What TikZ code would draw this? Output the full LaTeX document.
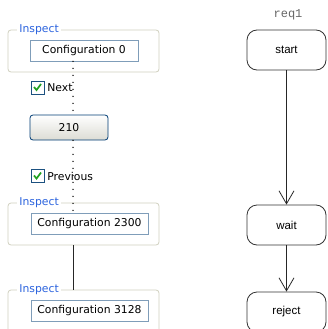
\documentclass[tikz,border=0pt]{standalone}
\usepackage{fontspec}
\setmainfont{DejaVu Sans}
\newfontfamily\arialfont{Liberation Sans}
\setmonofont{Liberation Mono}
\usetikzlibrary{arrows.meta}
\definecolor{grpline}{HTML}{D0D0BF}
\definecolor{inspblue}{HTML}{2B63DE}
\definecolor{editline}{HTML}{7F9DB9}
\definecolor{btnline}{HTML}{003C74}
\definecolor{btnfill}{HTML}{DCDCD4}
\definecolor{chkline}{HTML}{1C5180}
\definecolor{chkgreen}{HTML}{21A121}

\begin{document}
\begin{tikzpicture}[x=1pt,y=-1pt,>={Straight Barb[length=13pt,width=15pt]},
	font=\fontsize{10.8}{12}\selectfont,line width=0.8pt,
	group/.style={draw=grpline,rounded corners=3pt,minimum width=151pt,inner sep=0pt},
	title/.style={fill=white,text=inspblue,inner xsep=2pt,inner ysep=0pt,anchor=west},
	edit/.style={draw=editline,fill=white,inner sep=0pt,minimum height=21pt},
	button/.style={draw=btnline,rounded corners=3pt,top color=white,bottom color=btnfill,
		minimum width=78pt,minimum height=25pt},
	check/.style={draw=chkline,fill=white,minimum size=13pt,inner sep=0pt,
		path picture={\draw[chkgreen,line width=1.7pt] (path picture bounding box.center)
			++(-3.5,-0.5) -- ++(2.5,3) -- ++(4.5,-6);}},
	dots/.style={line width=1.5pt,line cap=round,dash pattern=on 0pt off 7pt},
	state/.style={draw=black!80,rounded corners=10pt,minimum width=79pt,minimum height=40pt,
		font=\arialfont\fontsize{11.5}{13}\selectfont}]
	\useasboundingbox (0,0) rectangle (327,329);
	\clip (0,0) rectangle (327,329);
	\coordinate (spine) at (73,0);

	\node[group,minimum height=42pt] (grp0) at (83.5,51) {};
	\node[title] (ttl0) at (17,30) {Inspect};
	\node[edit,minimum width=108pt] (cfg0) at (84,50.5) {Configuration 0};
	\node[check] (chk0) at (37.5,87.5) {};
	\node[anchor=west,inner sep=0pt] (next) at (47,87.5) {Next};
	\node[button] (btn) at (69,127.5) {210};
	\node[check] (chk1) at (37.5,176) {};
	\node[anchor=west,inner sep=0pt] (prev) at (47,176) {Previous};
	\node[group,minimum height=42pt] (grp1) at (83.5,224) {};
	\node[title] (ttl1) at (17,203) {Inspect};
	\node[edit,minimum width=117pt] (cfg1) at (89.5,223.5) {Configuration 2300};
	\node[group,minimum height=60pt] (grp2) at (83.5,320) {};
	\node[title] (ttl2) at (17,290) {Inspect};
	\node[edit,minimum width=117pt] (cfg2) at (89.5,310.5) {Configuration 3128};

	\draw[dots] (cfg0.south -| spine) -- (btn.north -| spine);
	\draw[dots] (btn.south -| spine) -- (cfg1.north -| spine);
	\draw[black!85] (grp1.south -| spine) -- (grp2.north -| spine);

	\node[font=\ttfamily\fontsize{12}{14}\selectfont,text=black!60] (req) at (288,15) {req1};
	\node[state] (start) at (286.5,50) {start};
	\node[state] (wait) at (286.5,225) {wait};
	\node[state] (reject) at (286.5,312) {reject};

	\path[->,black!85] (start) edge (wait)
	(wait) edge (reject);
\end{tikzpicture}
\end{document}
